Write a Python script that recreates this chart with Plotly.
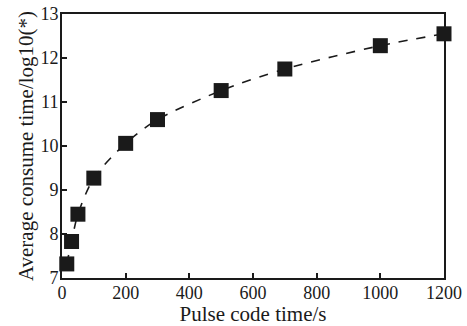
import plotly.graph_objects as go

pulse_time = [15, 30, 50, 100, 200, 300, 500, 700, 1000, 1200]
consume_log = [7.32, 7.83, 8.45, 9.27, 10.06, 10.6, 11.26, 11.75, 12.28, 12.55]

x_ticks = [0, 200, 400, 600, 800, 1000, 1200]
x_tick_labels = ["0", "200", "400", "600", "800", "1000", "1200"]
y_ticks = [7, 8, 9, 10, 11, 12, 13]

font_family = "Liberation Serif"

fig = go.Figure()
fig.add_trace(go.Scatter(
    x=pulse_time, y=consume_log,
    mode="lines+markers",
    line=dict(color="#1a1a1a", width=1.6, dash="dash", shape="spline", smoothing=0.8),
    marker=dict(symbol="square", size=15, color="#1a1a1a"),
    showlegend=False,
    cliponaxis=False,
))

fig.update_layout(
    width=467, height=326,
    margin=dict(l=62, r=23, t=14, b=48, autoexpand=False),
    paper_bgcolor="white",
    plot_bgcolor="white",
    font=dict(family=font_family, color="#1a1a1a", size=18),
)
fig.update_xaxes(
    range=[0, 1200],
    tickvals=x_ticks, ticktext=x_tick_labels,
    ticks="inside", ticklen=5, tickwidth=1.5, tickcolor="#1a1a1a",
    showline=True, linecolor="#1a1a1a", linewidth=2, mirror=True,
    showgrid=False, zeroline=False, automargin=False,
    tickfont=dict(size=18), ticklabelstandoff=-3,
    title=dict(text="Pulse code time/s", font=dict(size=21), standoff=0),
)
fig.update_yaxes(
    range=[7, 13],
    tickvals=y_ticks,
    ticks="inside", ticklen=5, tickwidth=1.5, tickcolor="#1a1a1a",
    showline=True, linecolor="#1a1a1a", linewidth=2, mirror=True,
    showgrid=False, zeroline=False, automargin=False,
    tickfont=dict(size=18), ticklabelstandoff=-2,
    title=dict(text="Average consume time/log10(*)", font=dict(size=21), standoff=1),
)

fig.write_html("out.html", config={"displayModeBar": False},
               post_script="document.body.style.margin='0';")
